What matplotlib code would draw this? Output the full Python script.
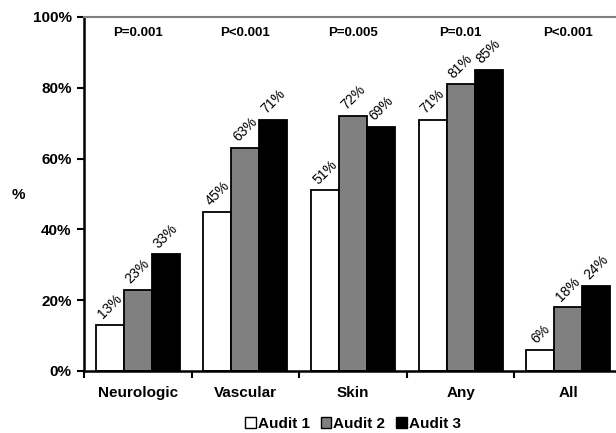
import matplotlib
matplotlib.use("Agg")
import matplotlib.pyplot as plt
from matplotlib.patches import Patch
import numpy as np

categories = ["Neurologic", "Vascular", "Skin", "Any", "All"]
audit1 = [13, 45, 51, 71, 6]
audit2 = [23, 63, 72, 81, 18]
audit3 = [33, 71, 69, 85, 24]
p_values = ["P=0.001", "P<0.001", "P=0.005", "P=0.01", "P<0.001"]
series_names = ["Audit 1", "Audit 2", "Audit 3"]
series_colors = ["white", "#808080", "black"]

plt.rcParams["font.family"] = ["Liberation Sans", "DejaVu Sans"]

W, H = 616, 433
fig = plt.figure(figsize=(W / 100, H / 100), dpi=100)
ax = fig.add_axes([84 / W, 1 - 371 / H, (622 - 84) / W, (371 - 17) / H])

x = np.arange(len(categories)) + 0.5
bw = 0.26
for i, (vals, color) in enumerate(zip([audit1, audit2, audit3], series_colors)):
    xs = x + (i - 1) * bw
    ax.bar(xs, vals, width=bw, color=color, edgecolor="black", linewidth=1.3, zorder=2)
    for xi, v in zip(xs, vals):
        ax.text(xi, v + 1.0, f"{v}%", rotation=45, ha="center", va="bottom",
                fontsize=10)

for xi, p in zip(x, p_values):
    ax.text(xi, 95.5, p, ha="center", va="center", fontsize=9.5, fontweight="bold")

ax.set_xlim(0, len(categories))
ax.set_ylim(0, 100)
ax.set_yticks(range(0, 101, 20))
ax.set_yticklabels([f"{t}%" for t in range(0, 101, 20)], fontsize=11, fontweight="bold")
ax.set_xticks(np.arange(len(categories) + 1))
ax.set_xticklabels([])
ax.set_xticks(x, minor=True)
ax.set_xticklabels(categories, minor=True, fontsize=11, fontweight="bold")
ax.tick_params(axis="x", which="major", direction="out", length=5, width=1.5)
ax.tick_params(axis="x", which="minor", length=0, pad=11)
ax.tick_params(axis="y", direction="out", length=5, width=1.5, pad=4)

ax.spines["left"].set_linewidth(1.8)
ax.spines["bottom"].set_linewidth(1.8)
ax.spines["top"].set_color("#808080")
ax.spines["top"].set_linewidth(1.5)
ax.spines["right"].set_visible(False)

fig.text(12 / W, 1 - 195 / H, "%", fontsize=11, fontweight="bold", va="center", ha="left")

handles = [Patch(facecolor=c, edgecolor="black", linewidth=1) for c in series_colors]
fig.legend(handles, series_names, loc="center", bbox_to_anchor=(353 / W, 1 - 424 / H),
           ncol=3, frameon=False, handlelength=0.7, handleheight=0.7,
           handletextpad=0.15, columnspacing=0.7, borderpad=0.1,
           prop={"weight": "bold", "size": 11})

fig.savefig("out.png", dpi=100)
